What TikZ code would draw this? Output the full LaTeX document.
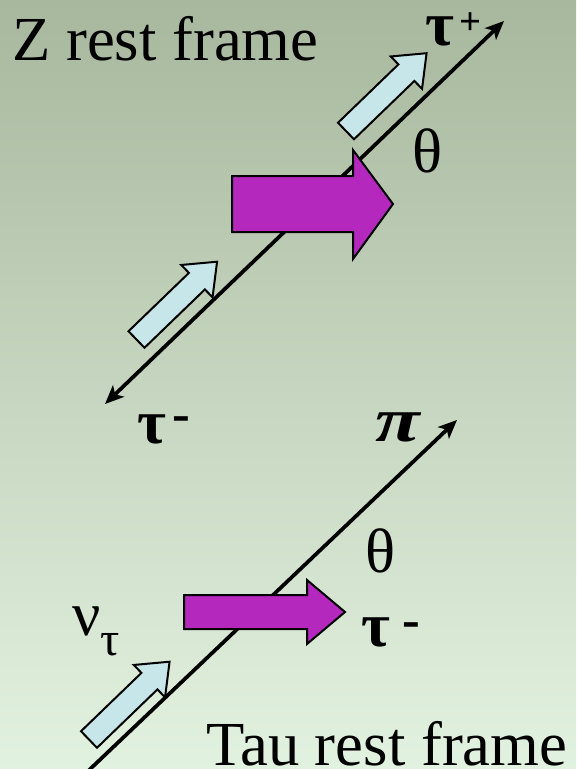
\documentclass[tikz,border=0pt]{standalone}
\usepackage{fontspec}
\setmainfont{Liberation Serif}
\usetikzlibrary{arrows.meta}
\definecolor{bgtop}{RGB}{168,184,158}
\definecolor{bgbot}{RGB}{226,242,224}
\definecolor{magentafill}{RGB}{180,40,190}
\definecolor{cyanfill}{RGB}{198,230,234}
\newcommand\cyanblock[2]{%
  \draw[cyanshape, shift={(#1,#2)}, rotate=44]
    (0,-11.5) -- (84,-11.5) -- (84,-22.5) -- (112,0) -- (84,22.5) -- (84,11.5) -- (0,11.5) -- cycle;}
\begin{document}
\begin{tikzpicture}[x=0.75pt,y=-0.75pt,
  axisline/.style={line width=2.8pt, draw=black, line cap=butt},
  tipstyle/.style={-{Stealth[length=14pt,width=12pt,inset=3.5pt]}},
  bothtips/.style={{Stealth[length=14pt,width=12pt,inset=3.5pt]}-{Stealth[length=14pt,width=12pt,inset=3.5pt]}},
  magshape/.style={draw=black, line width=1.5pt, fill=magentafill, line join=miter},
  cyanshape/.style={draw=black, line width=1.5pt, fill=cyanfill, line join=miter},
  lbl/.style={inner sep=0pt, anchor=base west, font=\fontsize{47}{52}\selectfont}]
\useasboundingbox (0,0) rectangle (576,769);
\shade[top color=bgtop, bottom color=bgbot] (0,0) rectangle (576,769);

% Z rest frame axis
\coordinate (za) at (105,404);
\coordinate (zb) at (504,21);
\draw[axisline, bothtips] (za) -- (zb);
\cyanblock{346}{131}
\cyanblock{136.5}{339.5}
\draw[magshape] (232,176) -- (353,176) -- (353,150) -- (393,204) -- (353,259) -- (353,232) -- (232,232) -- cycle;

% Tau rest frame axis
\coordinate (ta) at (86,773);
\coordinate (tb) at (457,420);
\draw[axisline, tipstyle] (ta) -- (tb);
\cyanblock{89}{739.5}
\draw[magshape] (184,595) -- (307,595) -- (307,580) -- (345,612) -- (307,644) -- (307,629) -- (184,629) -- cycle;

% labels
\node[lbl] (zframe) at (12,60) {Z rest frame};
\node[lbl] (tauframe) at (206,765) {Tau rest frame};
\node[lbl] (tauplus) at (425,45) {\textbf{τ}\hspace{4pt}\raisebox{8pt}{\fontsize{29}{29}\selectfont\textbf{+}}};
\node[lbl] (thetaone) at (412,172) {θ};
\node[lbl] (thetatwo) at (365,572) {θ};
\node[lbl] (tauminusone) at (137,443) {\textbf{τ}\hspace{5pt}\raisebox{8.4pt}{\fontsize{40}{40}\selectfont\textbf{-}}};
\node[lbl] (pion) at (375,441) {\scalebox{1.3}[1]{\textbf{\textit{π}}}};
\node[lbl] (nutau) at (72,635) {ν\raisebox{-15pt}{\fontsize{36}{36}\selectfont τ}};
\node[lbl] (tauminustwo) at (361,646) {\textbf{τ}\hspace{9pt}\raisebox{6.1pt}{\fontsize{40}{40}\selectfont\textbf{-}}};
\end{tikzpicture}
\end{document}
